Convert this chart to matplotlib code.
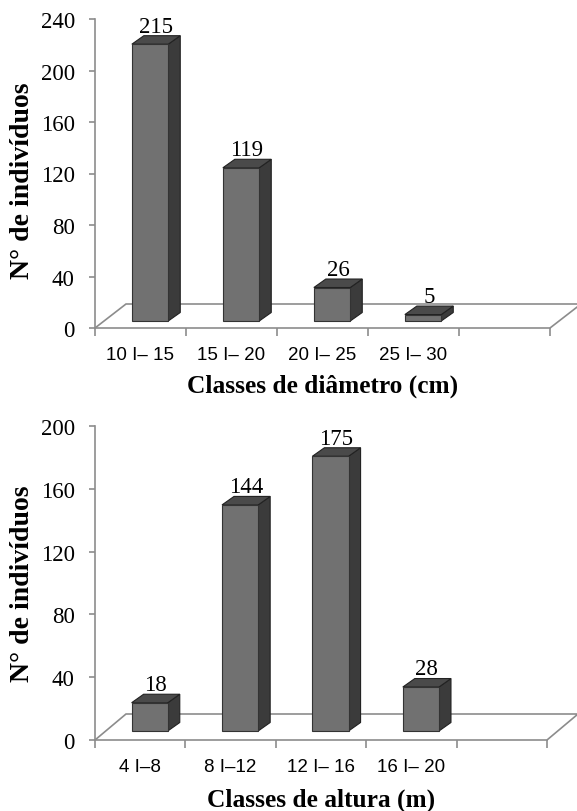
import matplotlib
matplotlib.use('Agg')
import matplotlib.pyplot as plt
from matplotlib.patches import Polygon

# data
diam_classes = ['10 I\u2013 15', '15 I\u2013 20', '20 I\u2013 25', '25 I\u2013 30']
diam_counts = [215, 119, 26, 5]
diam_yticks = [0, 40, 80, 120, 160, 200, 240]

alt_classes = ['4 I\u20138', '8 I\u201312', '12 I\u2013 16', '16 I\u2013 20']
alt_counts = [18, 144, 175, 28]
alt_yticks = [0, 40, 80, 120, 160, 200]

SERIF = 'Liberation Serif'
SANS = 'Liberation Sans'
AXC = '#8c8c8c'
DPI = 100

fig = plt.figure(figsize=(5.77, 8.12), dpi=DPI)


def bar3d_panel(rect, classes, counts, yticks, xlabel, lift_px, floor_px,
                ylab_y, xlab_y, ncat=5):
    ax = fig.add_axes(rect)
    ymax = yticks[-1]
    ax.set_xlim(0, ncat)
    ax.set_ylim(0, ymax)
    w_px = rect[2] * fig.get_figwidth() * DPI
    h_px = rect[3] * fig.get_figheight() * DPI
    ux = ncat / w_px          # data units per pixel
    uy = ymax / h_px

    # floor
    fdx, fdy = 31 * ux, floor_px * uy
    floor = [(0, 0), (fdx, fdy), (ncat + fdx, fdy), (ncat, 0)]
    ax.add_patch(Polygon(floor, closed=False, fill=False, ec=AXC, lw=1.2,
                         clip_on=False, zorder=1))

    # bars
    bw = 0.40
    bdx, bdy = 12 * ux, 8.5 * uy
    lift = lift_px * uy
    for i, v in enumerate(counts):
        x0 = i + 0.405
        x1 = x0 + bw
        y0 = lift
        y1 = lift + v
        front = [(x0, y0), (x1, y0), (x1, y1), (x0, y1)]
        side = [(x1, y0), (x1 + bdx, y0 + bdy), (x1 + bdx, y1 + bdy), (x1, y1)]
        top = [(x0, y1), (x1, y1), (x1 + bdx, y1 + bdy), (x0 + bdx, y1 + bdy)]
        ax.add_patch(Polygon(side, fc='#3b3b3b', ec='#222222', lw=0.8, zorder=3))
        ax.add_patch(Polygon(top, fc='#4a4a4a', ec='#222222', lw=0.8, zorder=3))
        ax.add_patch(Polygon(front, fc='#717171', ec='#333333', lw=0.8, zorder=4))
        ax.annotate(str(v), xy=((x0 + x1 + bdx) / 2, y1 + bdy),
                    xytext=(0, 3), textcoords='offset points',
                    ha='center', va='baseline', family=SERIF, fontsize=16.5,
                    zorder=5)

    for s in ['top', 'right']:
        ax.spines[s].set_visible(False)
    ax.spines['left'].set_color(AXC)
    ax.spines['bottom'].set_color(AXC)
    ax.spines['left'].set_linewidth(1.2)
    ax.spines['bottom'].set_linewidth(1.2)

    ax.set_yticks(yticks)
    ax.set_yticklabels([str(t) for t in yticks], family=SERIF, fontsize=16.5)
    ax.tick_params(axis='y', length=4.5, width=1.2, color=AXC, pad=10)

    ax.set_xticks(range(ncat + 1))
    ax.set_xticklabels([])
    ax.tick_params(axis='x', which='major', length=6, width=1.2, color=AXC)
    ax.set_xticks([i + 0.5 for i in range(len(classes))], minor=True)
    ax.set_xticklabels(classes, minor=True, family=SANS, fontsize=13.5)
    ax.tick_params(axis='x', which='minor', length=0, pad=13)

    ax.set_ylabel('N\u00b0 de indiv\u00edduos', family=SERIF, fontsize=20,
                  fontweight='bold')
    ax.yaxis.set_label_coords(-0.16, ylab_y)
    ax.yaxis.label.set_va('center')
    ax.set_xlabel(xlabel, family=SERIF, fontsize=18.3, fontweight='bold')
    ax.xaxis.set_label_coords(0.5, xlab_y)
    ax.xaxis.label.set_va('center')
    return ax


bar3d_panel([95 / 577, 483 / 812, 455 / 577, 309 / 812],
            diam_classes, diam_counts, diam_yticks,
            'Classes de di\u00e2metro (cm)', 7, 24, 0.48, -0.184)
bar3d_panel([95 / 577, 71 / 812, 452 / 577, 314 / 812],
            alt_classes, alt_counts, alt_yticks,
            'Classes de altura (m)', 9, 26, 0.5, -0.188)

fig.savefig('out.png', dpi=DPI)
